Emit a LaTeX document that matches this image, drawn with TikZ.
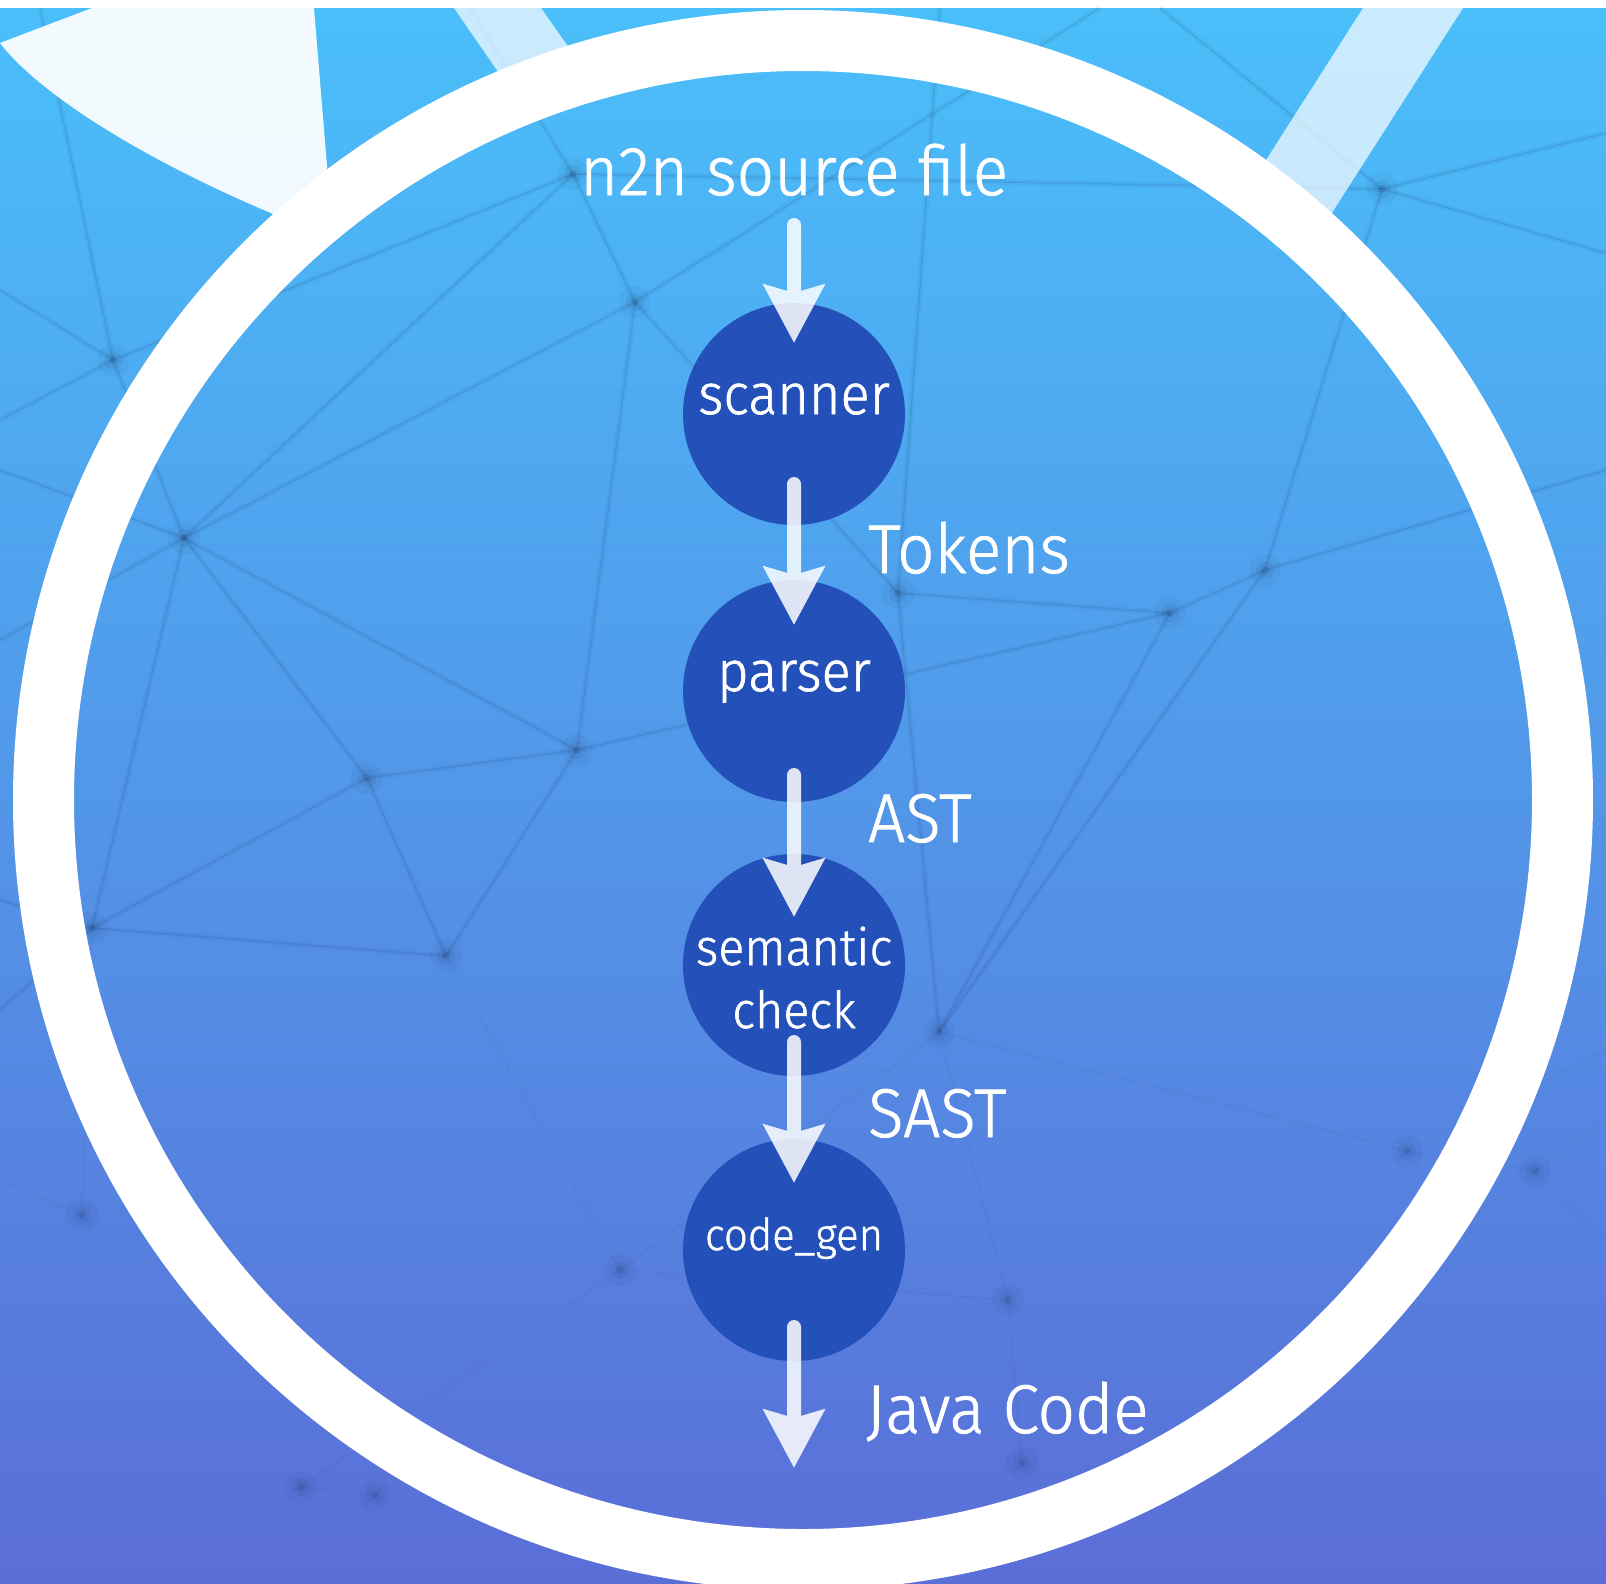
\documentclass[tikz,border=0pt]{standalone}
\usepackage{fontspec}
\setmainfont{Fira Sans}[UprightFont={* Light}, FakeBold=1.2, FakeStretch=0.95]
\usetikzlibrary{arrows.meta,calc}

\definecolor{skytop}{HTML}{4ABFFA}
\definecolor{skymid}{HTML}{5196E7}
\definecolor{skylow}{HTML}{5A6ED7}
\definecolor{stage}{HTML}{2350B9}
\definecolor{meshc}{HTML}{17305A}

\tikzstyle{stagenode}=[circle, fill=stage, minimum size=222pt, inner sep=0pt, text=white, text height=0pt, text depth=0pt]
\tikzstyle{flow}=[white, line width=14pt, line cap=round, -{Stealth[length=58pt,width=60pt,inset=8pt]}]
\tikzstyle{tag}=[text=white, anchor=base west, inner sep=0pt, font=\fontsize{69}{80}\selectfont]

\begin{document}
\begin{tikzpicture}[x=1pt,y=-1pt,
  mesh/.style={meshc, line width=1.5pt, opacity=.12},
  haze/.style={meshc, line width=6pt, opacity=.04},
  faint/.style={meshc, line width=1.4pt, opacity=.05}]
\useasboundingbox (0,0) rectangle (1606,1583);
% backdrop
\fill[white] (0,0) rectangle (1606,8);
\shade[top color=skytop, middle color=skymid, bottom color=skylow] (0,8) rectangle (1606,1583);

% network in the background
\coordinate (a) at (113,360);
\coordinate (b) at (184,538);
\coordinate (c) at (573,174);
\coordinate (d) at (635,302);
\coordinate (e) at (1382,189);
\coordinate (f) at (577,750);
\coordinate (g) at (367,778);
\coordinate (h) at (92,928);
\coordinate (i) at (446,956);
\coordinate (j) at (898,593);
\coordinate (k) at (1170,613);
\coordinate (l) at (1265,570);
\coordinate (m) at (939,1032);
\coordinate (n) at (1407,1151);
\coordinate (o) at (1535,1171);
\coordinate (p) at (82,1215);
\coordinate (q) at (620,1270);
\coordinate (r) at (1008,1300);
\coordinate (s) at (1022,1463);
\coordinate (t) at (301,1487);
\coordinate (u) at (375,1495);
\coordinate (w1) at (0,290);
\coordinate (w2) at (0,420);
\coordinate (w3) at (0,470);
\coordinate (w4) at (0,640);
\coordinate (w5) at (0,900);
\coordinate (w6) at (0,1010);
\coordinate (w7) at (0,1180);
\coordinate (t1) at (40,8);
\coordinate (t2) at (470,8);
\coordinate (t3) at (1100,8);
\coordinate (t4) at (1160,8);
\coordinate (t5) at (940,8);
\coordinate (e1) at (1606,133);
\coordinate (e2) at (1606,253);
\coordinate (e3) at (1606,470);
\coordinate (e4) at (1606,1050);
\coordinate (e5) at (1606,1120);
\coordinate (e6) at (1606,1240);

\foreach \u/\v in {a/b, a/c, a/w1, a/w2, a/t1, b/c, b/d, b/g, b/f, b/h, b/w3, b/w4,
    c/d, c/e, c/t2, d/f, d/t3, d/j, e/l, e/t4, e/e1, e/e2, f/g, f/i, f/k,
    g/i, g/h, h/i, h/w5, h/w6, j/k, j/t5, j/m, k/l, k/m, l/m, l/e3}
  {\draw[haze] (\u) -- (\v);
   \draw[mesh] (\u) -- (\v);}
\foreach \u/\v in {m/n, m/r, n/o, n/e4, o/e5, o/e6, h/p, p/w7, i/q, q/t, t/u, q/r, r/s, m/q}
  \draw[faint] (\u) -- (\v);
\foreach \p in {a,b,c,d,e,f,g,h,i,j,k,l,m,n,o,p,q,r,s,t,u}
  {\fill[meshc, opacity=.05] (\p) circle (16);
   \fill[meshc, opacity=.08] (\p) circle (9);
   \fill[meshc, opacity=.15] (\p) circle (4);}

% light flares behind the ring
\fill[white, opacity=.93] (92,8) -- (0,43) .. controls (40,95) and (150,165) .. (300,225)
  -- (329,190) -- (314,8) -- cycle;
\fill[white, opacity=.7] (454,8) -- (541,8) -- (581,65) -- (512,92) -- cycle;
\fill[white, opacity=.7] (1363,8) -- (1463,8) -- (1319,233) -- (1252,182) -- cycle;

% the ring
\draw[white, line width=61pt] (803,800) circle (759.5);

% compiler stages
\node (src) at (794,195) [anchor=base, text=white, inner sep=0pt, font=\fontsize{69}{80}\selectfont] {n2n source file};
\node (scan) at (794,414) [stagenode, font=\fontsize{57}{68}\selectfont] {scanner};
\node (parse) at (794,691) [stagenode, font=\fontsize{57}{68}\selectfont] {parser};
\node (sem) at (794,965) [stagenode, font=\fontsize{51}{63}\selectfont] {\begin{tabular}[t]{@{}c@{}}semantic\\check\end{tabular}};
\node (gen) at (794,1250) [stagenode, font=\fontsize{44}{52}\selectfont] {code\_gen};
\coordinate (out) at (794,1468);

\begin{scope}[transparency group, opacity=.85]
\draw[flow] ([yshift=-30pt]src.base) -- ([yshift=71pt]scan.center);
\draw[flow] ([yshift=-70pt]scan.center) -- ([yshift=66pt]parse.center);
\draw[flow] ([yshift=-84pt]parse.center) -- ([yshift=48pt]sem.center);
\draw[flow] ([yshift=-77pt]sem.center) -- ([yshift=67pt]gen.center);
\draw[flow] ([yshift=-77pt]gen.center) -- (out);
\end{scope}

% what flows between the stages
\node (tok) at (868,573) [tag] {Tokens};
\node (ast) at (868,842) [tag] {AST};
\node (sast) at (868,1137) [tag] {SAST};
\node (java) at (866,1433) [tag] {Java Code};
\end{tikzpicture}
\end{document}
